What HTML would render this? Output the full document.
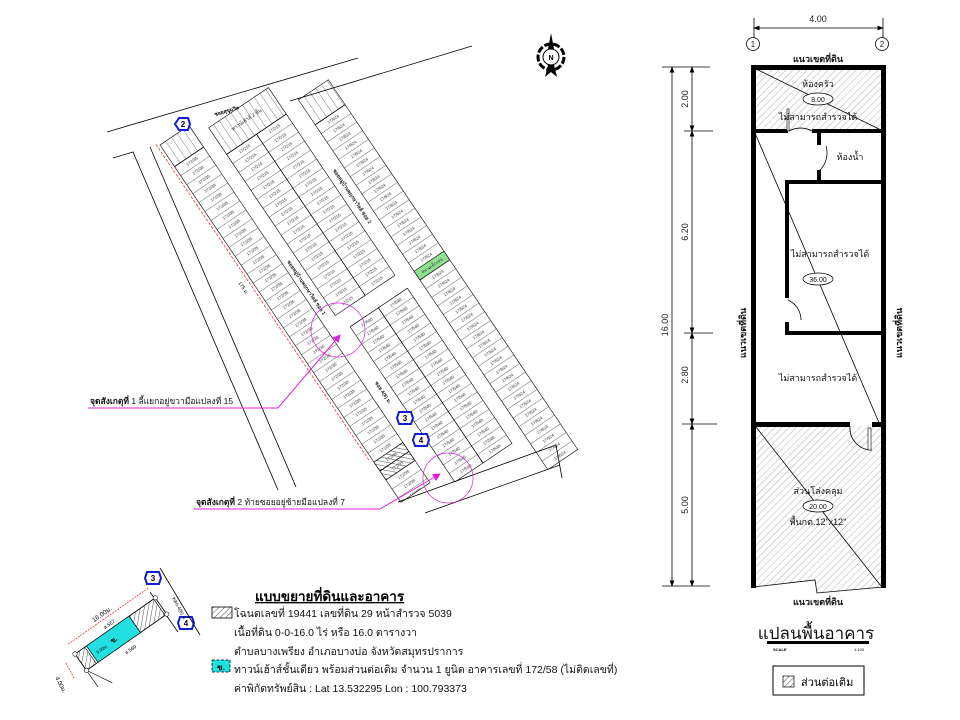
<!DOCTYPE html>
<html><head><meta charset="utf-8">
<style>
html,body{margin:0;padding:0;background:#fff;}
svg{display:block;font-family:"Liberation Sans","Noto Sans CJK SC",sans-serif;}
</style></head>
<body>
<svg width="960" height="720" viewBox="0 0 960 720" xmlns="http://www.w3.org/2000/svg">
<defs>
<pattern id="h" width="5" height="5" patternUnits="userSpaceOnUse" patternTransform="rotate(45)">
<line x1="0" y1="0" x2="0" y2="5" stroke="#999" stroke-width="0.8"/></pattern>
<pattern id="h2" width="4" height="4" patternUnits="userSpaceOnUse" patternTransform="rotate(45)">
<line x1="0" y1="0" x2="0" y2="4" stroke="#222" stroke-width="0.8"/></pattern>
<pattern id="pA" width="10.8" height="35" patternUnits="userSpaceOnUse">
<line x1="0" y1="0" x2="0" y2="35" stroke="#000" stroke-width="0.6"/>
<text transform="translate(7,17.5) rotate(-90)" font-size="4.3" text-anchor="middle" fill="#333">172/35</text></pattern>
<pattern id="pB" width="10.8" height="36" patternUnits="userSpaceOnUse">
<line x1="0" y1="0" x2="0" y2="36" stroke="#000" stroke-width="0.6"/>
<text transform="translate(7,18) rotate(-90)" font-size="4.3" text-anchor="middle" fill="#333">17/215</text></pattern>
<pattern id="pC" width="10.4" height="36" patternUnits="userSpaceOnUse">
<line x1="0" y1="0" x2="0" y2="36" stroke="#000" stroke-width="0.6"/>
<text transform="translate(6.8,18) rotate(-90)" font-size="4.3" text-anchor="middle" fill="#333">17/624</text></pattern>
<pattern id="pD" width="10.4" height="35" patternUnits="userSpaceOnUse">
<line x1="0" y1="0" x2="0" y2="35" stroke="#000" stroke-width="0.6"/>
<text transform="translate(6.8,17.5) rotate(-90)" font-size="4.3" text-anchor="middle" fill="#333">17/540</text></pattern>
<pattern id="hd" width="30" height="7" patternUnits="userSpaceOnUse">
<line x1="0" y1="0" x2="30" y2="0" stroke="#000" stroke-width="0.6"/></pattern>
<marker id="ar" markerWidth="8" markerHeight="8" refX="7" refY="4" orient="auto"><path d="M0,0 L8,4 L0,8z" fill="#e020e0"/></marker>
<marker id="ak" markerWidth="8" markerHeight="6" refX="7" refY="3" orient="auto-start-reverse"><path d="M0,0 L8,3 L0,6z" fill="#000"/></marker>
</defs>

<g stroke="#000" stroke-width="0.8" fill="none">
<line x1="107" y1="132" x2="358" y2="58"/>
<line x1="290" y1="101" x2="472" y2="46"/>
<polyline points="113,158 133,152 278,490"/>
<line x1="150" y1="147" x2="296" y2="487"/>
<line x1="398" y1="502" x2="556" y2="445"/>
<line x1="425" y1="513" x2="560" y2="465"/>
<line x1="556" y1="445" x2="562" y2="478"/>
</g>
<text x="215" y="116" font-size="5" font-weight="bold" transform="rotate(-16 215 116)">ซอยสุขุมวิท</text>
<text x="238" y="283" font-size="5" transform="rotate(56 238 283)">175 ม.</text>

<g transform="translate(160,145) rotate(56)" stroke-width="0.6">
<rect x="0" y="-35" width="26" height="35" fill="url(#hd)" stroke="#000"/>
<g transform="translate(26,-35)"><rect width="405" height="35" fill="url(#pA)" stroke="#000"/></g>
<rect x="382.4" y="-35" width="10.8" height="35" fill="url(#h2)" stroke="#000"/>
<rect x="393.2" y="-35" width="10.8" height="35" fill="url(#h2)" stroke="#000"/>
<rect x="13" y="-122" width="32" height="72" fill="url(#hd)" stroke="#000"/>
<g transform="translate(45,-86)"><rect width="194.4" height="36" fill="url(#pB)" stroke="#000"/></g>
<g transform="translate(45,-122)"><rect width="194.4" height="36" fill="url(#pB)" stroke="#000"/></g>
<rect x="40" y="-176" width="30" height="36" fill="url(#hd)" stroke="#000"/>
<g transform="translate(70,-176)"><rect width="416" height="36" fill="url(#pC)" stroke="#000"/></g>
<rect x="246.8" y="-176" width="10.4" height="36" fill="#8fe08f" stroke="#000"/>
<text transform="translate(253.6,-158) rotate(-90)" font-size="4.3" text-anchor="middle" fill="#333">สนามเด็กเล่น</text>
<g transform="translate(257,-90)"><rect width="187.2" height="34" fill="url(#pD)" stroke="#000"/></g>
<g transform="translate(257,-125)"><rect width="187.2" height="35" fill="url(#pD)" stroke="#000"/></g>
<g font-size="5" font-weight="bold" fill="#222" text-anchor="middle">
<text x="200" y="-40">ซอยหมู่บ้านพฤกษาวิลล์ ซอย 1</text>
<text x="150" y="-129">ซอยหมู่บ้านพฤกษาวิลล์ ซอย 2</text>
<text x="330" y="-45">ซอย 4(6) ม.</text>
<text x="29" y="-86" font-weight="normal" transform="rotate(-90 29 -86)">ทาวน์เฮ้าส์ 2 ชั้น</text>
</g>
<line x1="-3" y1="3" x2="378" y2="3" stroke="#e33" stroke-width="0.8" stroke-dasharray="3,1.5"/>
</g>

<g fill="none" stroke="#e020e0" stroke-width="1">
<circle cx="338" cy="330" r="27" stroke-width="0.7"/>
<circle cx="448" cy="478" r="25" stroke-width="0.7"/>
<polyline points="88,408 278,408 340,335" marker-end="url(#ar)"/>
<polyline points="194,509 380,509 440,474" marker-end="url(#ar)"/>
</g>
<text x="90" y="404" font-size="8.5" fill="#111"><tspan font-weight="bold">จุดสังเกตุที่</tspan> 1 ลี้แยกอยู่ขวามือแปลงที่ 15</text>
<text x="196" y="505" font-size="8.5" fill="#111"><tspan font-weight="bold">จุดสังเกตุที่</tspan> 2 ท้ายซอยอยู่ซ้ายมือแปลงที่ 7</text>

<g font-size="8" text-anchor="middle" font-weight="bold">
<g transform="translate(183,124)"><polygon points="-8,0 -4,-6 5,-6 7,0 5,6 -4,6" fill="#fff" stroke="#1020d0" stroke-width="2"/><text y="3">2</text></g>
<g transform="translate(405,418)"><polygon points="-6,-6 6,-6 8,0 6,6 -6,6 -8,0" fill="#fff" stroke="#1020d0" stroke-width="2"/><text y="3">3</text></g>
<g transform="translate(421,440)"><polygon points="-6,-6 6,-6 8,0 6,6 -6,6 -8,0" fill="#fff" stroke="#1020d0" stroke-width="2"/><text y="3">4</text></g>
<g transform="translate(153,578)"><polygon points="-6,-6 6,-6 8,0 6,6 -6,6 -8,0" fill="#fff" stroke="#1020d0" stroke-width="2"/><text y="3">3</text></g>
<g transform="translate(186,623)"><polygon points="-6,-6 6,-6 8,0 6,6 -6,6 -8,0" fill="#fff" stroke="#1020d0" stroke-width="2"/><text y="3">4</text></g>
</g>

<g transform="translate(551,57)">
<circle r="13" fill="none" stroke="#000" stroke-width="3" stroke-dasharray="7,2"/>
<circle r="8" fill="#fff" stroke="#000" stroke-width="1"/>
<polygon points="0,-24 3,-8 -3,-8" fill="#000"/>
<polygon points="-3,8 3,8 6,20 0,15 -6,20" fill="#000"/>
<text y="3" font-size="7" font-weight="bold" text-anchor="middle">N</text>
</g>

<line x1="160" y1="568" x2="200" y2="635" stroke="#000" stroke-width="0.8"/>
<line x1="150" y1="592" x2="178" y2="632" stroke="#000" stroke-width="0.8"/>
<g transform="translate(75,654) rotate(-35)">
<rect x="0" y="0" width="98" height="20" fill="#fff" stroke="#000" stroke-width="0.8"/>
<rect x="0" y="0" width="12" height="20" fill="url(#h2)" stroke="#000" stroke-width="0.6"/>
<rect x="14" y="0" width="52" height="20" fill="#22e0e0" stroke="#000" stroke-width="0.6"/>
<rect x="66" y="0" width="30" height="20" fill="url(#h2)" stroke="#000" stroke-width="0.6"/>
<line x1="0" y1="-12" x2="98" y2="-12" stroke="#e33" stroke-width="0.8" stroke-dasharray="2,1"/>
<text x="45" y="-15" font-size="6.5" text-anchor="middle">16.00ม.</text>
<text x="45" y="-3" font-size="5" text-anchor="middle">ส.567</text>
<text x="48" y="30" font-size="5" text-anchor="middle">ส.569</text>
<text x="40" y="13" font-size="7" text-anchor="middle" font-weight="bold">ข.</text>
<text x="25" y="13" font-size="4.5" text-anchor="middle">9.00ม.</text>
<line x1="0" y1="-2" x2="0" y2="40" stroke="#000" stroke-width="0.6"/>
<line x1="0" y1="20" x2="14" y2="45" stroke="#000" stroke-width="0.6"/>
<circle cx="0" cy="0" r="2.2" fill="#fff" stroke="#000" stroke-width="0.6"/>
<circle cx="0" cy="20" r="2.2" fill="#fff" stroke="#000" stroke-width="0.6"/>
<circle cx="98" cy="0" r="2.2" fill="#fff" stroke="#000" stroke-width="0.6"/>
<circle cx="98" cy="20" r="2.2" fill="#fff" stroke="#000" stroke-width="0.6"/>
</g>
<line x1="66" y1="663" x2="74" y2="678" stroke="#e33" stroke-width="0.8" stroke-dasharray="2,1"/>
<text x="55" y="678" font-size="6" transform="rotate(62 55 678)">4.00ม.</text>
<text x="172" y="598" font-size="5" transform="rotate(62 172 598)">ทสถ.4(6) ม.</text>

<text x="255" y="601" font-size="13.5" font-weight="bold" text-decoration="underline">แบบขยายที่ดินและอาคาร</text>
<rect x="212" y="607" width="20" height="11" fill="url(#h2)" stroke="#000" stroke-width="0.8"/>
<g font-size="10.5" fill="#111">
<text x="234" y="617">โฉนดเลขที่ 19441 เลขที่ดิน 29 หน้าสำรวจ 5039</text>
<text x="234" y="636">เนื้อที่ดิน 0-0-16.0 ไร่ หรือ 16.0 ตารางวา</text>
<text x="234" y="655">ตำบลบางเพรียง อำเภอบางบ่อ จังหวัดสมุทรปราการ</text>
<text x="234" y="673">ทาวน์เฮ้าส์ชั้นเดียว พร้อมส่วนต่อเติม จำนวน 1 ยูนิต อาคารเลขที่ 172/58 (ไม่ติดเลขที่)</text>
<text x="234" y="692">ค่าพิกัดทรัพย์สิน : Lat 13.532295   Lon : 100.793373</text>
</g>
<rect x="212" y="660" width="18" height="12" fill="#22e0e0" stroke="#000" stroke-width="0.8" stroke-dasharray="3,1.5"/>
<text x="221" y="670" font-size="8" text-anchor="middle" font-weight="bold">ข.</text>

<g stroke="#000" stroke-width="0.8" fill="none">
<line x1="754" y1="28" x2="883" y2="28" marker-start="url(#ak)" marker-end="url(#ak)"/>
<line x1="754" y1="18" x2="754" y2="38"/><line x1="883" y1="18" x2="883" y2="38"/>
<circle cx="753" cy="44" r="6.5"/><circle cx="882" cy="44" r="6.5"/>
<line x1="672" y1="67" x2="672" y2="586" marker-start="url(#ak)" marker-end="url(#ak)"/>
<line x1="692" y1="67" x2="692" y2="131" marker-start="url(#ak)" marker-end="url(#ak)"/>
<line x1="692" y1="131" x2="692" y2="333" marker-start="url(#ak)" marker-end="url(#ak)"/>
<line x1="692" y1="333" x2="692" y2="424" marker-start="url(#ak)" marker-end="url(#ak)"/>
<line x1="692" y1="424" x2="692" y2="586" marker-start="url(#ak)" marker-end="url(#ak)"/>
<line x1="662" y1="67" x2="710" y2="67"/><line x1="684" y1="131" x2="713" y2="131"/>
<line x1="684" y1="333" x2="713" y2="333"/><line x1="682" y1="424" x2="717" y2="424"/>
<line x1="662" y1="586" x2="710" y2="586"/>
</g>
<g font-size="9" fill="#222" text-anchor="middle">
<text x="818" y="22">4.00</text>
<text x="753" y="47" font-size="8">1</text><text x="882" y="47" font-size="8">2</text>
<text transform="translate(688,99) rotate(-90)">2.00</text>
<text transform="translate(688,232) rotate(-90)">6.20</text>
<text transform="translate(668,325) rotate(-90)">16.00</text>
<text transform="translate(688,375) rotate(-90)">2.80</text>
<text transform="translate(688,505) rotate(-90)">5.00</text>
</g>
<rect x="755" y="68" width="127" height="63" fill="url(#h)"/>
<polygon points="755,426 882,426 882,588 817,593 816,580 755,588" fill="url(#h)"/>
<g stroke="#000" stroke-width="0.8" fill="none">
<line x1="756" y1="69" x2="881" y2="130"/>
<line x1="755" y1="133" x2="880" y2="425"/>
<line x1="756" y1="427" x2="881" y2="586"/>
<polyline points="753,587 815,580 817,593 883,587"/>
<path d="M826,146 A24,24 0 0 1 820,170"/>
<path d="M788,300 A22,22 0 0 1 801,320"/>
<path d="M850,426 A22,22 0 0 0 872,450"/>
<path d="M789,131 A24,24 0 0 1 812,131"/>
</g>
<g fill="#000">
<rect x="751" y="65" width="5" height="523"/>
<rect x="881" y="65" width="5" height="523"/>
<rect x="751" y="65" width="135" height="5"/>
<rect x="751" y="129" width="37" height="4"/>
<rect x="812" y="129" width="74" height="4"/>
<rect x="817" y="131" width="4" height="14"/>
<rect x="817" y="170" width="4" height="12"/>
<rect x="785" y="180" width="101" height="4"/>
<rect x="785" y="180" width="4" height="118"/>
<rect x="785" y="322" width="4" height="13"/>
<rect x="785" y="331" width="101" height="4"/>
<rect x="751" y="422" width="99" height="5"/>
<rect x="872" y="422" width="14" height="5"/>
</g>
<rect x="787" y="109" width="2" height="22" fill="#fff" stroke="#000" stroke-width="0.6"/>
<rect x="868" y="428" width="3" height="22" fill="#fff" stroke="#000" stroke-width="0.6"/>
<g font-size="9" fill="#111" text-anchor="middle">
<text x="818" y="62" font-weight="bold">แนวเขตที่ดิน</text>
<text x="818" y="87">ห้องครัว</text>
<ellipse cx="818" cy="99" rx="15" ry="6" fill="#fff" stroke="#000" stroke-width="0.7"/>
<text x="818" y="102" font-size="7">8.00</text>
<text x="818" y="120">ไม่สามารถสำรวจได้</text>
<text x="850" y="160">ห้องน้ำ</text>
<text x="830" y="257">ไม่สามารถสำรวจได้</text>
<ellipse cx="818" cy="279" rx="15" ry="6" fill="#fff" stroke="#000" stroke-width="0.7"/>
<text x="818" y="282" font-size="7">36.00</text>
<text x="818" y="381">ไม่สามารถสำรวจได้</text>
<text x="818" y="494">ส่วนโล่งคลุม</text>
<ellipse cx="818" cy="506" rx="15" ry="6" fill="#fff" stroke="#000" stroke-width="0.7"/>
<text x="818" y="509" font-size="7">20.00</text>
<text x="818" y="525">พื้นกต.12"x12"</text>
<text x="818" y="605" font-weight="bold">แนวเขตที่ดิน</text>
<text transform="translate(746,333) rotate(-90)" font-weight="bold">แนวเขตที่ดิน</text>
<text transform="translate(902,333) rotate(-90)" font-weight="bold">แนวเขตที่ดิน</text>
<text x="816" y="639" font-size="17">แปลนพื้นอาคาร</text>
</g>
<rect x="767" y="641" width="102" height="3" fill="#000"/>
<text x="773" y="651" font-size="4" font-weight="bold">SCALE</text>
<text x="854" y="651" font-size="4">1:100</text>
<rect x="773" y="666" width="91" height="29" fill="#fff" stroke="#000" stroke-width="1"/>
<rect x="783" y="676" width="11" height="11" fill="url(#h2)" stroke="#000" stroke-width="0.7"/>
<text x="801" y="686" font-size="11">ส่วนต่อเติม</text>
</svg>
</body></html>
